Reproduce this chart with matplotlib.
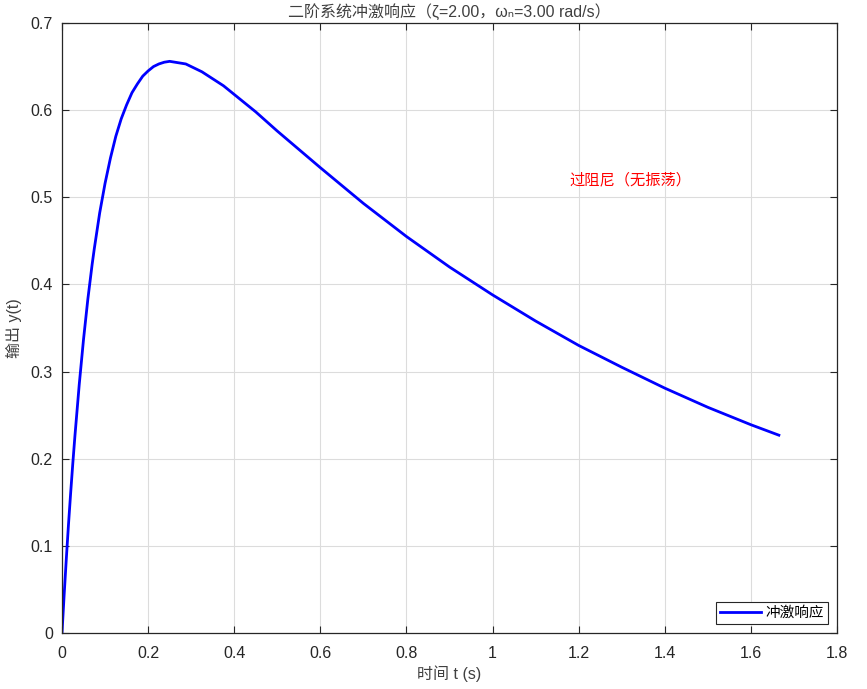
import matplotlib
matplotlib.use('Agg')
import matplotlib.pyplot as plt

# values
t_vals = [0, 0.005, 0.01, 0.015, 0.02, 0.025, 0.03, 0.04, 0.05, 0.06, 0.07, 0.075, 0.0875,
          0.1, 0.1125, 0.125, 0.1375, 0.15, 0.1625, 0.175, 0.1875, 0.2, 0.2125, 0.225,
          0.2375, 0.25, 0.2625, 0.275, 0.2875, 0.3, 0.325, 0.35, 0.375, 0.4, 0.45, 0.5,
          0.55, 0.6, 0.7, 0.8, 0.9, 1.0, 1.1, 1.2, 1.3, 1.4, 1.5, 1.6, 1.665]
y_vals = [0, 0.044, 0.085, 0.124, 0.160, 0.194, 0.226, 0.285, 0.337, 0.383, 0.423, 0.441, 0.482,
          0.516, 0.545, 0.570, 0.590, 0.606, 0.620, 0.630, 0.639, 0.645, 0.650, 0.653,
          0.655, 0.656, 0.655, 0.654, 0.653, 0.650, 0.644, 0.636, 0.628, 0.618, 0.598, 0.576,
          0.555, 0.534, 0.493, 0.455, 0.420, 0.388, 0.358, 0.330, 0.305, 0.281, 0.259, 0.239, 0.227]

x_ticks = [0, 0.2, 0.4, 0.6, 0.8, 1, 1.2, 1.4, 1.6, 1.8]
y_ticks = [0, 0.1, 0.2, 0.3, 0.4, 0.5, 0.6, 0.7]

title = '二阶系统冲激响应（ζ=2.00，ωₙ=3.00 rad/s）'
fonts = ['Liberation Sans', 'Noto Sans CJK SC', 'DejaVu Sans']
plt.rcParams['font.family'] = fonts
txt_col = '#262626'

fig = plt.figure(figsize=(8.67, 6.89), dpi=100)
ax = fig.add_axes([62 / 867, 56 / 689, 775 / 867, 610 / 689])

ax.plot(t_vals, y_vals, color='#0000ff', lw=2, label='冲激响应')

ax.set_xlim(0, 1.8)
ax.set_ylim(0, 0.7)
ax.set_xticks(x_ticks)
ax.set_xticklabels(['0', '0.2', '0.4', '0.6', '0.8', '1', '1.2', '1.4', '1.6', '1.8'])
ax.set_yticks(y_ticks)
ax.set_yticklabels(['0', '0.1', '0.2', '0.3', '0.4', '0.5', '0.6', '0.7'])
ax.tick_params(direction='in', length=5, labelsize=11.5, colors=txt_col, top=True, right=True,
               labeltop=False, labelright=False)
ax.tick_params(axis='x', pad=9.5)
ax.tick_params(axis='y', pad=6.5)
ax.grid(True, color='#dcdcdc', lw=0.8)
ax.set_axisbelow(True)
for s in ax.spines.values():
    s.set_color(txt_col)
    s.set_linewidth(0.9)

ax.set_title(title, fontsize=11.5, color='#404040', pad=4)
ax.set_xlabel('时间 t (s)', fontsize=11.5, color='#404040', labelpad=3)
ax.set_ylabel('输出 y(t)', fontsize=11.5, color='#404040', labelpad=6)

ax.text(1.32, 0.52, '过阻尼（无振荡）', color='red', fontsize=11, ha='center', va='center')

leg = ax.legend(loc='lower right', fontsize=10.5, frameon=True, fancybox=False,
                borderpad=0.3, handlelength=2.8, handletextpad=0.3, borderaxespad=0.6)
leg.get_frame().set_edgecolor(txt_col)
leg.get_frame().set_linewidth(0.8)
leg.get_frame().set_alpha(1)

fig.savefig('out.png', dpi=100)
